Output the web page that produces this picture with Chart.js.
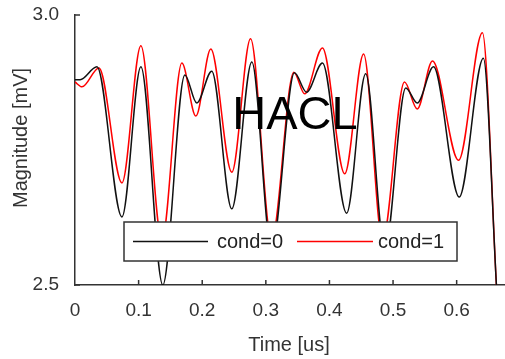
<!DOCTYPE html>
<html>
<head>
<meta charset="utf-8">
<script src="https://cdn.jsdelivr.net/npm/chart.js@4/dist/chart.umd.min.js"></script>
<style>
  html, body { margin: 0; padding: 0; background: #fff; }
  #wrap { width: 505px; height: 359px; position: relative; }
</style>
</head>
<body>
<div id="wrap"><canvas id="c"></canvas></div>
<script>
// values: time in us, magnitude in mV
const time0 = [0, 0.008, 0.0345, 0.0738, 0.1036, 0.138, 0.1727, 0.1915, 0.215, 0.2465, 0.278, 0.309, 0.345, 0.364, 0.389, 0.427, 0.457, 0.487, 0.520, 0.538, 0.5636, 0.604, 0.642, 0.6625, 0.672];
const mag0 = [2.880, 2.880, 2.904, 2.626, 2.904, 2.500, 2.889, 2.837, 2.896, 2.641, 2.913, 2.565, 2.893, 2.857, 2.911, 2.633, 2.891, 2.565, 2.865, 2.837, 2.904, 2.663, 2.920, 2.500, 2.300];
const time1 = [0, 0.011, 0.0377, 0.0738, 0.1036, 0.1366, 0.168, 0.190, 0.2135, 0.2465, 0.276, 0.309, 0.344, 0.361, 0.389, 0.424, 0.4537, 0.4835, 0.518, 0.538, 0.562, 0.603, 0.6405, 0.6625, 0.672];
const mag1 = [2.876, 2.867, 2.902, 2.689, 2.943, 2.583, 2.911, 2.813, 2.937, 2.709, 2.956, 2.583, 2.894, 2.854, 2.939, 2.706, 2.928, 2.583, 2.876, 2.826, 2.915, 2.731, 2.967, 2.500, 2.300];

const seriesNames = ['cond=0', 'cond=1'];
const seriesColors = ['#111111', '#ff0000'];

const xTicks = [0, 0.1, 0.2, 0.3, 0.4, 0.5, 0.6];
const xTickLabels = ['0', '0.1', '0.2', '0.3', '0.4', '0.5', '0.6'];
const yTicks = [2.5, 3.0];
const yTickLabels = ['2.5', '3.0'];

const FONT = '"Liberation Sans", Arial, sans-serif';
const AXIS_COLOR = '#333';

const toPoints = (xs, ys) => xs.map((x, i) => ({ x: x, y: ys[i] }));

// inward tick marks, axis titles, the HACL note and the boxed legend
const decor = {
  id: 'decor',
  afterDatasetsDraw(chart) {
    const ctx = chart.ctx;
    const area = chart.chartArea;
    const xs = chart.scales.x;
    const ys = chart.scales.y;
    ctx.save();

    ctx.strokeStyle = AXIS_COLOR;
    ctx.lineWidth = 1.5;
    ctx.beginPath();
    xTicks.forEach(v => {
      if (v === 0) return;
      const px = xs.getPixelForValue(v);
      ctx.moveTo(px, area.bottom);
      ctx.lineTo(px, area.bottom - 5);
    });
    yTicks.forEach(v => {
      const py = ys.getPixelForValue(v);
      ctx.moveTo(area.left, py);
      ctx.lineTo(area.left + 5, py);
    });
    ctx.stroke();

    // big label in the plot
    ctx.fillStyle = '#000';
    ctx.font = '47px ' + FONT;
    ctx.textAlign = 'center';
    ctx.textBaseline = 'middle';
    ctx.fillText('HACL', 295, 116);

    // legend box
    const box = { left: 124, top: 222, right: 457, bottom: 261 };
    ctx.fillStyle = '#fff';
    ctx.fillRect(box.left, box.top, box.right - box.left, box.bottom - box.top);
    ctx.strokeStyle = AXIS_COLOR;
    ctx.lineWidth = 1.5;
    ctx.strokeRect(box.left, box.top, box.right - box.left, box.bottom - box.top);

    const midY = (box.top + box.bottom) / 2;
    const entries = [{ x0: 133, x1: 208, tx: 217 }, { x0: 297, x1: 373, tx: 378 }];
    ctx.font = '20px ' + FONT;
    ctx.textAlign = 'left';
    ctx.textBaseline = 'middle';
    chart.data.datasets.forEach((ds, i) => {
      const e = entries[i];
      ctx.strokeStyle = ds.borderColor;
      ctx.lineWidth = 1.5;
      ctx.beginPath();
      ctx.moveTo(e.x0, midY);
      ctx.lineTo(e.x1, midY);
      ctx.stroke();
      ctx.fillStyle = '#222';
      ctx.fillText(ds.label, e.tx, midY + 1);
    });

    // axis titles
    ctx.fillStyle = '#333';
    ctx.font = '20px ' + FONT;
    ctx.textAlign = 'center';
    ctx.textBaseline = 'alphabetic';
    ctx.fillText('Time [us]', 289, 351);

    ctx.translate(27, 138);
    ctx.rotate(-Math.PI / 2);
    ctx.fillText('Magnitude [mV]', 0, 0);

    ctx.restore();
  }
};

new Chart(document.getElementById('c'), {
  type: 'line',
  data: {
    datasets: [
      {
        label: seriesNames[0],
        data: toPoints(time0, mag0),
        borderColor: seriesColors[0],
        borderWidth: 1.5,
        pointRadius: 0,
        cubicInterpolationMode: 'monotone',
        fill: false
      },
      {
        label: seriesNames[1],
        data: toPoints(time1, mag1),
        borderColor: seriesColors[1],
        borderWidth: 1.5,
        pointRadius: 0,
        cubicInterpolationMode: 'monotone',
        fill: false
      }
    ]
  },
  options: {
    responsive: true,
    maintainAspectRatio: false,
    animation: false,
    layout: { padding: { top: 15, right: 0, left: 0, bottom: 0 } },
    plugins: {
      legend: { display: false },
      tooltip: { enabled: false }
    },
    scales: {
      x: {
        type: 'linear',
        min: 0,
        max: 0.676,
        afterBuildTicks: (scale) => { scale.ticks = xTicks.map(v => ({ value: v })); },
        afterFit: (scale) => {
          scale.height = 74;
          scale.paddingLeft = 0;
          scale.paddingRight = 0;
        },
        grid: { display: true, drawOnChartArea: false, drawTicks: false },
        border: { display: true, color: AXIS_COLOR, width: 1.5 },
        ticks: {
          padding: 14,
          color: '#333',
          font: { family: FONT, size: 19 },
          maxRotation: 0,
          callback: (v) => xTickLabels[xTicks.findIndex(t => Math.abs(t - v) < 1e-9)]
        }
      },
      y: {
        min: 2.5,
        max: 3.0,
        afterBuildTicks: (scale) => { scale.ticks = yTicks.map(v => ({ value: v })); },
        afterFit: (scale) => {
          scale.width = 75;
          scale.paddingTop = 0;
          scale.paddingBottom = 0;
        },
        grid: { display: true, drawOnChartArea: false, drawTicks: false },
        border: { display: true, color: AXIS_COLOR, width: 1.5 },
        ticks: {
          padding: 16,
          color: '#333',
          font: { family: FONT, size: 19 },
          callback: (v) => yTickLabels[yTicks.findIndex(t => Math.abs(t - v) < 1e-9)]
        }
      }
    }
  },
  plugins: [decor]
});
</script>
</body>
</html>
